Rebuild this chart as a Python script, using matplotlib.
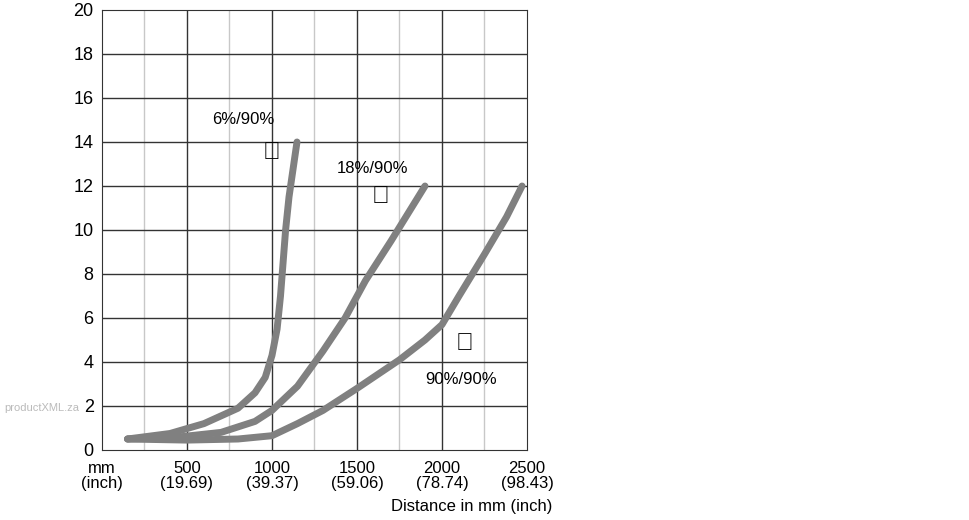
import matplotlib
matplotlib.use("Agg")
import matplotlib.pyplot as plt
import numpy as np

c1_x = [150, 400, 600, 800, 900, 960, 1000, 1030, 1050, 1065, 1080, 1100, 1147]
c1_y = [0.5, 0.75, 1.2, 1.9, 2.6, 3.3, 4.3, 5.5, 7.0, 8.5, 10.0, 11.5, 14.0]
c2_x = [150, 400, 700, 900, 1000, 1150, 1300, 1430, 1550, 1700, 1900]
c2_y = [0.5, 0.55, 0.8, 1.3, 1.8, 2.9, 4.5, 6.0, 7.7, 9.5, 12.0]
c3_x = [150, 500, 800, 1000, 1150, 1300, 1500, 1750, 1900, 2000, 2100, 2250, 2380, 2471]
c3_y = [0.5, 0.45, 0.5, 0.65, 1.2, 1.8, 2.8, 4.1, 5.0, 5.7, 7.0, 8.9, 10.6, 12.0]
xticks = [0, 500, 1000, 1500, 2000, 2500]
xlabels = ["mm\n(inch)", "500\n(19.69)", "1000\n(39.37)", "1500\n(59.06)", "2000\n(78.74)", "2500\n(98.43)"]
yticks = list(range(0, 21, 2))

plt.rcParams["font.family"] = "Liberation Sans"
fig = plt.figure(figsize=(9.7, 5.2), dpi=100)
ax = fig.add_axes([102/970, 1-450/520, 425/970, 440/520])
ax.set_xlim(0, 2500); ax.set_ylim(0, 20)
for x in np.arange(250, 2500, 500):
    ax.axvline(x, color="#c8c8c8", lw=1, zorder=0)
for x in xticks[1:-1]:
    ax.axvline(x, color="#333333", lw=1, zorder=0)
for y in yticks[1:-1]:
    ax.axhline(y, color="#333333", lw=1, zorder=0)
for xs, ys in [(c1_x, c1_y), (c2_x, c2_y), (c3_x, c3_y)]:
    ax.plot(xs, ys, color="#808080", lw=5, solid_capstyle="round", solid_joinstyle="round")
ax.set_xticks(xticks); ax.set_xticklabels(xlabels, fontsize=12)
ax.set_yticks(yticks); ax.set_yticklabels([str(v) for v in yticks], fontsize=13)
for lab in ax.get_xticklabels():
    lab.set_linespacing(0.95)
ax.tick_params(axis="x", length=0, pad=8)
ax.tick_params(axis="y", length=0, pad=6)
for s in ax.spines.values():
    s.set_color("#333333")
ax.text(650, 14.8, "6%/90%", fontsize=12)
ax.text(1000, 13.5, "①", fontsize=17, ha="center", va="center")
ax.text(1380, 12.6, "18%/90%", fontsize=12)
ax.text(1640, 11.5, "②", fontsize=17, ha="center", va="center")
ax.text(2130, 4.8, "③", fontsize=17, ha="center", va="center")
ax.text(1900, 3.0, "90%/90%", fontsize=12)
fig.text(552/970, 1-507/520, "Distance in mm (inch)", ha="right", va="center", fontsize=12)
fig.text(4/970, 1-408/520, "productXML.za", fontsize=8, color="#bbbbbb", va="center")
fig.savefig("out.png", dpi=100)
